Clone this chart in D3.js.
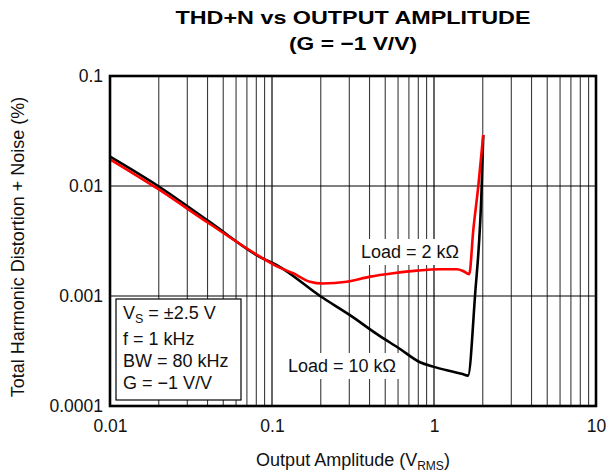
<!DOCTYPE html>
<html>
<head>
<meta charset="utf-8">
<script src="https://cdn.jsdelivr.net/npm/d3@7"></script>
<style>
  html, body { margin: 0; padding: 0; background: #fff; }
  svg { display: block; font-family: "Liberation Sans", Arial, Helvetica, sans-serif; }
</style>
</head>
<body>
<svg id="chart" width="616" height="474"></svg>
<script>
// Output amplitude (V RMS) and THD+N (%) for the two load conditions
const ampl10k = [0.01, 0.0198, 0.0414, 0.0843, 0.109, 0.198, 0.303, 0.445, 0.617, 0.82, 0.986, 1.387, 1.5, 1.622, 1.79, 1.97, 2.014];
const thd10k  = [0.0185, 0.0100, 0.0047, 0.00226, 0.00188, 0.00100, 0.00067, 0.00045, 0.00033, 0.000250, 0.000228, 0.000201, 0.000195, 0.000189, 0.00099, 0.0100, 0.0291];

const ampl2k = [0.01, 0.0198, 0.0414, 0.0843, 0.109, 0.1353, 0.1713, 0.206, 0.2895, 0.4032, 0.5597, 0.7806, 1.0845, 1.387, 1.51, 1.65, 1.748, 1.877, 2.014];
const thd2k  = [0.0175, 0.0094, 0.00451, 0.00228, 0.00184, 0.00161, 0.00135, 0.0013, 0.00135, 0.0015, 0.00161, 0.0017, 0.00175, 0.00175, 0.00169, 0.00158, 0.00398, 0.0100, 0.0291];

const xTicks = [0.01, 0.1, 1, 10];
const xTickLabels = ["0.01", "0.1", "1", "10"];
const yTicks = [0.1, 0.01, 0.001, 0.0001];
const yTickLabels = ["0.1", "0.01", "0.001", "0.0001"];

const titleLines = ["THD+N vs OUTPUT AMPLITUDE", "(G = \u22121 V/V)"];
const conditions = ["f = 1 kHz", "BW = 80 kHz", "G = \u22121 V/V"];
const loadLabels = ["Load = 2 k\u03A9", "Load = 10 k\u03A9"];

const svg = d3.select("#chart");
const margin = { left: 110, top: 76, right: 20, bottom: 68 };
const W = 616, H = 474;
const plotW = W - margin.left - margin.right;   // 486
const plotH = H - margin.top - margin.bottom;   // 330

const x = d3.scaleLog().domain([0.01, 10]).range([margin.left, margin.left + plotW]);
const y = d3.scaleLog().domain([0.0001, 0.1]).range([margin.top + plotH, margin.top]);

// grid: minor verticals, then decade lines
const minorX = [];
[0.01, 0.1, 1].forEach(d => { for (let k = 2; k <= 9; k++) minorX.push(d * k); });
svg.append("g").selectAll("line").data(minorX).join("line")
  .attr("x1", d => x(d)).attr("x2", d => x(d))
  .attr("y1", margin.top).attr("y2", margin.top + plotH)
  .attr("stroke", "#3a3a3a").attr("stroke-width", 1.1);

svg.append("g").selectAll("line").data([0.1, 1]).join("line")
  .attr("x1", d => x(d)).attr("x2", d => x(d))
  .attr("y1", margin.top).attr("y2", margin.top + plotH)
  .attr("stroke", "#000").attr("stroke-width", 1.2);

svg.append("g").selectAll("line").data([0.01, 0.001]).join("line")
  .attr("x1", margin.left).attr("x2", margin.left + plotW)
  .attr("y1", d => y(d)).attr("y2", d => y(d))
  .attr("stroke", "#000").attr("stroke-width", 1.2);

// condition box
const box = svg.append("g");
box.append("rect").attr("x", 116).attr("y", 299).attr("width", 125).attr("height", 101)
  .attr("fill", "#fff").attr("stroke", "#000").attr("stroke-width", 1.2);
const vs = box.append("text").attr("x", 123).attr("y", 319).attr("font-size", 18).attr("fill", "#111");
vs.append("tspan").text("V");
vs.append("tspan").attr("font-size", 12.5).attr("dy", 4).text("S");
vs.append("tspan").attr("dy", -4).text(" = \u00B12.5 V");
box.selectAll("text.cond").data(conditions).join("text").attr("class", "cond")
  .attr("x", 123).attr("y", (d, i) => 345 + i * 22).attr("font-size", 18).attr("fill", "#111")
  .text(d => d);

// load labels on white patches
const labelPos = [[410, 258], [342, 372]];
loadLabels.forEach((t, i) => {
  const g = svg.append("g");
  const txt = g.append("text").attr("x", labelPos[i][0]).attr("y", labelPos[i][1])
    .attr("text-anchor", "middle").attr("font-size", 18).attr("fill", "#111").text(t);
  const bb = txt.node().getBBox();
  g.insert("rect", "text").attr("x", bb.x - 4).attr("y", bb.y - 3)
    .attr("width", bb.width + 8).attr("height", bb.height + 6).attr("fill", "#fff");
});

// curves
const line = d3.line().x(d => x(d[0])).y(d => y(d[1])).curve(d3.curveMonotoneX);
svg.append("path").datum(d3.zip(ampl10k, thd10k)).attr("d", line)
  .attr("fill", "none").attr("stroke", "#000").attr("stroke-width", 2.6).attr("stroke-linejoin", "round");
svg.append("path").datum(d3.zip(ampl2k, thd2k)).attr("d", line)
  .attr("fill", "none").attr("stroke", "#ff0000").attr("stroke-width", 2.6).attr("stroke-linejoin", "round");

// frame
svg.append("rect").attr("x", margin.left).attr("y", margin.top).attr("width", plotW).attr("height", plotH)
  .attr("fill", "none").attr("stroke", "#000").attr("stroke-width", 2.6);

// axes
const xAxis = d3.axisBottom(x).tickValues(xTicks).tickFormat((d, i) => xTickLabels[i]).tickSize(0).tickPadding(14);
const gx = svg.append("g").attr("transform", `translate(0,${margin.top + plotH})`).call(xAxis);
gx.select(".domain").remove();
gx.selectAll("text").attr("font-size", 17.5).attr("fill", "#111").attr("font-family", null);

const yAxis = d3.axisLeft(y).tickValues(yTicks).tickFormat((d, i) => yTickLabels[i]).tickSize(0).tickPadding(7);
const gy = svg.append("g").attr("transform", `translate(${margin.left},0)`).call(yAxis);
gy.select(".domain").remove();
gy.selectAll("text").attr("font-size", 17.5).attr("fill", "#111").attr("font-family", null);

// axis titles
const xt = svg.append("text").attr("x", 353).attr("y", 466).attr("text-anchor", "middle")
  .attr("font-size", 18).attr("fill", "#111");
xt.append("tspan").text("Output Amplitude (V");
xt.append("tspan").attr("font-size", 12).attr("dy", 4).text("RMS");
xt.append("tspan").attr("dy", -4).text(")");

svg.append("text").attr("transform", "translate(24,247) rotate(-90)").attr("text-anchor", "middle")
  .attr("font-size", 18).attr("fill", "#111").text("Total Harmonic Distortion + Noise (%)");

// title: wide bold lettering, stretched horizontally
const titleWidths = [355, 128];
svg.selectAll("text.title").data(titleLines).join("text").attr("class", "title")
  .attr("x", 353).attr("y", (d, i) => 24 + i * 26).attr("text-anchor", "middle")
  .attr("font-size", 19).attr("font-weight", "bold").attr("fill", "#000")
  .attr("textLength", (d, i) => titleWidths[i]).attr("lengthAdjust", "spacingAndGlyphs")
  .text(d => d);
</script>
</body>
</html>
